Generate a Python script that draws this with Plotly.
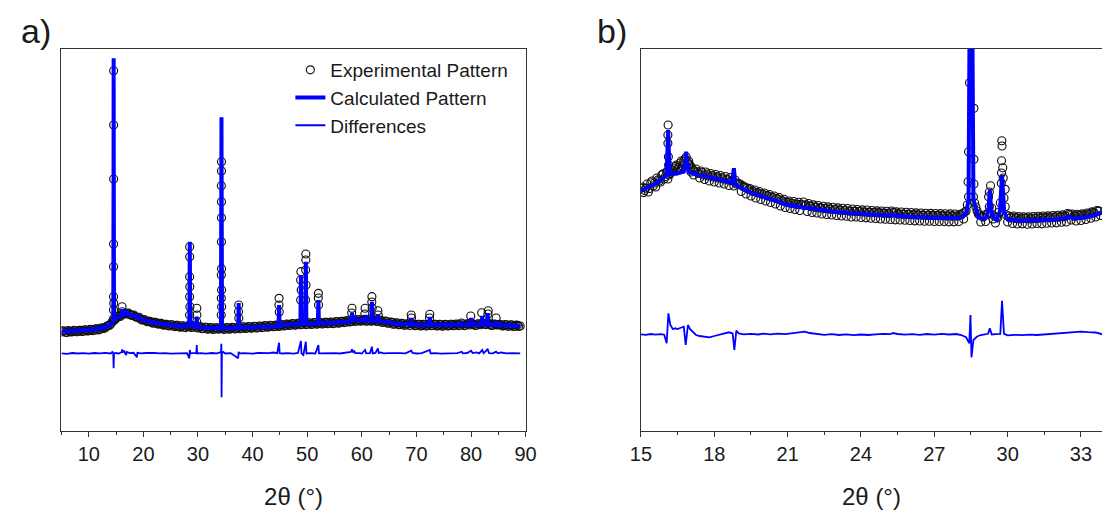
import plotly.graph_objects as go

# ---------------- Panel a) : full pattern 5-90 deg ----------------
# Experimental step scan, two interleaved read-outs (start, step, counts)
exp_a_start = 5.0
exp_a_step = 0.5
exp_a_counts = [
    990, 1000, 985, 998, 992, 1003, 994, 1006, 998, 1010,
    1002, 1014, 1008, 1021, 1015, 1030, 1032, 1052, 1068, 1100,
    1125, 1150, 1160, 1175, 1178, 1165, 1158, 1145, 1135, 1118,
    1112, 1100, 1098, 1085, 1088, 1075, 1076, 1064, 1068, 1055,
    1062, 1050, 1056, 1042, 1050, 1038, 1048, 1050, 1040, 1048,
    1030, 1042, 1025, 1036, 1022, 1033, 1020, 1031, 1025, 1030,
    1020, 1032, 1022, 1034, 1025, 1036, 1028, 1040, 1030, 1042,
    1032, 1045, 1034, 1048, 1038, 1052, 1042, 1055, 1046, 1058,
    1050, 1062, 1055, 1068, 1060, 1072, 1062, 1074, 1065, 1078,
    1068, 1080, 1070, 1082, 1072, 1083, 1074, 1086, 1076, 1088,
    1078, 1092, 1082, 1096, 1088, 1100, 1094, 1110, 1100, 1112,
    1102, 1112, 1100, 1112, 1102, 1110, 1098, 1106, 1090, 1098,
    1080, 1088, 1070, 1080, 1064, 1074, 1060, 1070, 1075, 1068,
    1055, 1066, 1054, 1065, 1054, 1070, 1055, 1066, 1052, 1064,
    1052, 1064, 1054, 1066, 1056, 1068, 1058, 1070, 1058, 1070,
    1072, 1068, 1058, 1070, 1075, 1068, 1078, 1066, 1058, 1068,
    1062, 1062, 1052, 1062, 1050, 1060, 1048, 1058, 1050,
]
exp_a_start_2 = 5.25
exp_a_counts_2 = [
    1002, 988, 1004, 990, 1006, 992, 1008, 996, 1012, 1000,
    1016, 1004, 1022, 1010, 1030, 1026, 1048, 1056, 1090, 1112,
    1145, 1145, 1172, 1170, 1180, 1158, 1160, 1138, 1136, 1110,
    1112, 1092, 1098, 1078, 1088, 1068, 1078, 1058, 1068, 1050,
    1062, 1044, 1056, 1038, 1052, 1034, 1050, 1036, 1052, 1036,
    1044, 1022, 1038, 1018, 1034, 1016, 1032, 1018, 1032, 1016,
    1034, 1018, 1036, 1020, 1038, 1022, 1042, 1026, 1044, 1028,
    1048, 1030, 1050, 1034, 1054, 1038, 1058, 1042, 1060, 1046,
    1064, 1050, 1070, 1056, 1074, 1058, 1076, 1062, 1080, 1064,
    1082, 1066, 1084, 1068, 1086, 1070, 1088, 1072, 1090, 1074,
    1094, 1078, 1098, 1084, 1104, 1090, 1112, 1096, 1114, 1098,
    1114, 1098, 1114, 1098, 1112, 1096, 1108, 1086, 1100, 1078,
    1090, 1068, 1082, 1062, 1076, 1058, 1072, 1056, 1072, 1052,
    1068, 1050, 1066, 1050, 1068, 1052, 1068, 1050, 1066, 1048,
    1066, 1050, 1068, 1052, 1070, 1054, 1080, 1054, 1072, 1060,
    1074, 1056, 1072, 1062, 1078, 1064, 1080, 1056, 1070, 1060,
    1066, 1050, 1064, 1048, 1062, 1046, 1060, 1046,
]
# Experimental points on the Bragg peaks
exp_a_peak_x = [
    14.55, 14.55, 14.55, 14.54, 14.54, 14.53, 14.57, 14.52, 14.58,
    16.1, 16.12,
    28.48, 28.48, 28.47, 28.5, 28.47, 28.52, 28.46,
    29.78, 29.8, 29.76,
    34.3, 34.3, 34.28, 34.3, 34.3, 34.29, 34.31, 34.28, 34.32, 34.27, 34.33, 34.26,
    37.45, 37.42, 37.48,
    44.85, 44.83, 44.88,
    48.85, 48.8, 48.9, 48.8,
    49.75, 49.75, 49.72, 49.78, 49.7,
    52.05, 52.03, 52.08,
    58.2, 58.15,
    60.6, 60.55,
    61.85, 61.83, 61.9,
    62.95, 63.0,
    69.05, 69.1,
    72.45, 72.4,
    79.95,
    81.95,
    83.15, 83.1,
    84.6,
]
exp_a_peak_y = [
    3603, 3060, 2520, 1870, 1643, 1343, 1277, 1210, 1127,
    1243, 1193,
    1843, 1743, 1543, 1443, 1343, 1243, 1160,
    1227, 1160, 1093,
    2693, 2600, 2453, 2293, 2133, 1893, 1623, 1560, 1410, 1327, 1243, 1160,
    1260, 1193, 1127,
    1327, 1260, 1190,
    1593, 1510, 1410, 1310,
    1770, 1710, 1610, 1460, 1310,
    1377, 1330, 1260,
    1227, 1180,
    1227, 1170,
    1343, 1290, 1230,
    1203, 1160,
    1160, 1130,
    1167, 1130,
    1150,
    1183,
    1203, 1170,
    1130,
]
calc_a_x = [
    5.0, 7.0, 9.0, 11.0, 12.5, 13.5, 14.2, 14.48, 14.53, 14.55, 14.57, 14.62,
    15.0, 15.6, 16.05, 16.1, 16.15, 16.5, 16.8, 16.85, 16.9, 17.3, 18.0,
    18.8, 18.85, 18.9, 20.0, 22.0, 25.0, 27.5, 28.42, 28.5, 28.58, 28.7,
    29.2, 29.27, 29.35, 29.7, 29.77, 29.85, 30.5, 33.0, 34.2, 34.3, 34.4,
    35.5, 37.35, 37.45, 37.55, 40.0, 43.0, 44.75, 44.85, 44.95, 46.5,
    48.75, 48.85, 48.95, 49.65, 49.75, 49.85, 51.0, 51.95, 52.05, 52.15,
    55.0, 57.5, 58.1, 58.2, 58.3, 58.6, 59.5, 60.5, 60.6, 60.7,
    61.75, 61.85, 61.95, 62.85, 62.95, 63.05, 64.0, 66.0, 68.95, 69.05, 69.15,
    72.35, 72.45, 72.55, 75.0, 78.2, 78.3, 78.4, 79.9, 80.0, 80.1,
    81.95, 82.05, 82.15, 82.95, 83.05, 83.15, 84.5, 84.6, 84.7, 86.0, 89.0,
]
calc_a_y = [
    993, 998, 1005, 1017, 1030, 1050, 1080, 1100, 2400, 3727, 2400, 1115,
    1127, 1150, 1160, 1220, 1160, 1165, 1168, 1210, 1168, 1170, 1155,
    1140, 1170, 1138, 1110, 1083, 1060, 1045, 1100, 1893, 1100, 1050,
    1045, 1090, 1045, 1045, 1143, 1045, 1035, 1027, 1027, 3137, 1027,
    1027, 1030, 1280, 1032, 1037, 1047, 1050, 1260, 1055, 1065,
    1068, 1560, 1070, 1070, 1693, 1072, 1075, 1075, 1310, 1077,
    1083, 1095, 1100, 1183, 1105, 1130, 1105, 1105, 1160, 1105,
    1105, 1293, 1105, 1100, 1160, 1095, 1095, 1075, 1065, 1130, 1065,
    1062, 1140, 1062, 1060, 1063, 1090, 1063, 1065, 1130, 1065,
    1065, 1150, 1065, 1065, 1180, 1065, 1062, 1100, 1060, 1060, 1050,
]
diff_a_x = [
    5.0, 6.0, 7.0, 8.0, 9.0, 10.0, 11.0, 12.0, 13.0, 14.0, 14.3, 14.48, 14.55, 14.62,
    15.0, 15.5, 16.05, 16.1, 16.2, 16.5, 16.6, 16.85, 16.95, 17.5, 18.2, 18.8, 18.9,
    19.5, 20.5, 21.5, 22.0, 23.0, 24.0, 25.0, 26.0, 27.0, 28.0, 28.42, 28.5, 28.6,
    29.0, 29.7, 29.77, 29.85, 30.5, 31.5, 32.5, 33.5, 34.22, 34.28, 34.32, 34.38,
    34.6, 35.0, 36.0, 37.35, 37.45, 37.55, 38.5, 40.0, 41.0, 42.0, 43.0, 43.8, 44.5,
    44.85, 44.95, 45.5, 46.5, 47.5, 48.3, 48.85, 48.95, 49.3, 49.75, 49.85, 50.5,
    51.5, 52.05, 52.15, 53.0, 54.0, 55.0, 56.0, 57.0, 58.0, 58.2, 58.4, 58.6, 58.8,
    59.5, 60.0, 60.6, 60.8, 61.5, 61.85, 62.0, 62.5, 62.95, 63.1, 63.5, 64.0, 65.0,
    66.0, 67.0, 68.0, 69.05, 69.3, 70.0, 71.0, 72.45, 72.6, 73.5, 74.5, 75.5, 76.5,
    77.5, 78.3, 78.5, 79.3, 80.0, 80.3, 81.0, 81.5, 82.05, 82.3, 83.05, 83.3, 84.0,
    84.6, 84.9, 85.5, 86.5, 87.5, 88.5, 89.0,
]
diff_a_y = [
    777, 772, 780, 775, 779, 774, 780, 776, 781, 775, 790, 780, 627, 775,
    780, 774, 790, 817, 785, 803, 780, 760, 790, 778, 782, 737, 782,
    776, 780, 786, 782, 776, 779, 774, 778, 775, 779, 727, 810, 775,
    778, 780, 860, 776, 779, 774, 780, 776, 790, 873, 337, 780,
    790, 775, 779, 727, 793, 776, 778, 774, 780, 776, 779, 785, 778,
    883, 778, 775, 779, 774, 780, 900, 776, 760, 893, 776, 779,
    775, 860, 777, 779, 774, 778, 775, 779, 790, 817, 785, 803, 778,
    779, 775, 810, 777, 779, 843, 776, 780, 827, 780, 785, 776, 779,
    775, 778, 776, 803, 780, 775, 779, 810, 776, 779, 774, 778, 776,
    779, 793, 776, 780, 803, 779, 786, 776, 810, 778, 817, 779, 776,
    793, 777, 785, 776, 779, 775, 777,
]

# ---------------- Panel b) : zoom 15-34 deg ----------------
exp_b_start = 15.0
exp_b_step = 0.1
exp_b_counts = [
    2428, 2384, 2429, 2390, 2483, 2451, 2440, 2512, 2490, 2572,
    2545, 2520, 2575, 2610, 2645, 2620, 2680, 2650, 2720, 2690,
    2660, 2620, 2600, 2590, 2530, 2585, 2515, 2570, 2500, 2555,
    2490, 2545, 2480, 2535, 2470, 2520, 2455, 2505, 2450, 2470,
    2470, 2395, 2440, 2370, 2415, 2350, 2395, 2330, 2380, 2315,
    2365, 2300, 2350, 2285, 2335, 2270, 2320, 2250, 2300, 2235,
    2285, 2225, 2275, 2215, 2265, 2205, 2262, 2255, 2195, 2250,
    2185, 2240, 2180, 2232, 2170, 2225, 2165, 2220, 2160, 2215,
    2155, 2210, 2150, 2205, 2148, 2200, 2140, 2198, 2140, 2195,
    2135, 2190, 2132, 2188, 2128, 2185, 2125, 2182, 2120, 2180,
    2118, 2178, 2115, 2185, 2112, 2172, 2110, 2170, 2108, 2168,
    2105, 2165, 2102, 2162, 2100, 2160, 2098, 2158, 2098, 2156,
    2095, 2155, 2095, 2154, 2094, 2153, 2092, 2152, 2092, 2150,
    2095, 2160, 2120, 2200, 2343, None, 2343, 2240, 2170, 2090,
    2140, 2095, 2180, 2453, 2120, 2080, 2135, 2283, 2633, 2243,
    2090, 2130, 2075, 2125, 2070, 2120, 2072, 2125, 2068, 2120,
    2070, 2125, 2075, 2128, 2072, 2130, 2078, 2132, 2080, 2135,
    2082, 2138, 2088, 2142, 2090, 2165, 2110, 2150, 2100, 2155,
    2105, 2160, 2115, 2170, 2128, 2185, 2140, 2200, 2155,
]
exp_b_start_2 = 15.05
exp_b_counts_2 = [
    2440, 2405, 2470, 2425, 2500, 2480, 2530, 2500, 2560, 2520,
    2590, 2560, 2590, 2630, 2660, 2640, 2700, 2670, 2740, 2665,
    2640, 2605, 2620, 2575, 2600, 2560, 2590, 2550, 2575, 2540,
    2565, 2530, 2555, 2520, 2545, 2510, 2535, 2500, 2510, 2480,
    2470, 2455, 2440, 2430, 2425, 2400, 2410, 2385, 2395, 2370,
    2380, 2355, 2365, 2340, 2350, 2325, 2335, 2305, 2318, 2290,
    2300, 2278, 2295, 2270, 2288, 2265, 2290, 2262, 2275, 2248,
    2262, 2238, 2255, 2232, 2248, 2225, 2242, 2220, 2238, 2215,
    2232, 2210, 2228, 2205, 2225, 2200, 2220, 2198, 2215, 2195,
    2212, 2190, 2210, 2188, 2205, 2185, 2202, 2182, 2200, 2178,
    2198, 2175, 2200, 2185, 2192, 2170, 2190, 2168, 2188, 2165,
    2185, 2162, 2182, 2160, 2180, 2158, 2178, 2156, 2176, 2154,
    2175, 2153, 2174, 2152, 2173, 2150, 2172, 2150, 2170, 2150,
    2168, 2175, 2190, 2260, None, None, 2280, 2200, 2160, 2148,
    2160, 2165, 2390, 2230, 2150, 2140, 2190, 2580, 2330, 2160,
    2150, 2140, 2150, 2135, 2145, 2130, 2142, 2128, 2142, 2130,
    2145, 2132, 2148, 2135, 2150, 2138, 2152, 2140, 2155, 2142,
    2158, 2145, 2162, 2150, 2175, 2168, 2170, 2150, 2168, 2155,
    2172, 2160, 2180, 2170, 2192, 2180, 2205, 2200,
]
exp_b_peak_x = [
    16.11, 16.1, 16.1, 16.12, 16.13, 16.08,
    16.45, 16.65, 16.75, 16.85, 16.95, 17.05, 17.15,
    28.38, 28.4, 28.44, 28.62, 28.62, 28.62,
    29.22, 29.25,
    29.76, 29.77, 29.75, 29.74, 29.9, 29.82,
]
exp_b_peak_y = [
    3060, 2960, 2877, 2743, 2660, 2600,
    2600, 2620, 2700, 2650, 2700, 2590, 2560,
    2493, 2793, 3483, 3227, 2717, 2470,
    2343, 2243,
    2903, 2850, 2703, 2477, 2417, 2530,
]
calc_b_x = [
    15.0, 15.3, 15.6, 15.9, 16.05, 16.08, 16.11, 16.14, 16.18, 16.5, 16.75,
    16.82, 16.85, 16.88, 16.95, 17.2, 17.6, 18.0, 18.4, 18.72, 18.8, 18.86,
    19.1, 19.5, 20.0, 20.5, 21.0, 21.5, 22.0, 22.5, 23.0, 23.5, 24.0, 24.5, 25.0,
    25.25, 25.32, 25.4, 26.0, 27.0, 27.8, 28.1, 28.3, 28.4, 28.5, 28.6, 28.7, 28.8,
    29.0, 29.15, 29.22, 29.27, 29.32, 29.4, 29.55, 29.68, 29.77, 29.86,
    30.0, 30.5, 31.0, 31.5, 32.0, 32.45, 32.55, 32.7, 33.0, 33.5, 33.86,
]
calc_b_y = [
    2403, 2435, 2475, 2527, 2560, 2800, 3010, 2800, 2570, 2577, 2593,
    2700, 2793, 2700, 2593, 2570, 2550, 2527, 2505, 2485, 2627, 2462,
    2430, 2383, 2343, 2305, 2260, 2240, 2220, 2203, 2190, 2180, 2172, 2163, 2155,
    2153, 2165, 2152, 2143, 2133, 2128, 2140, 2177, 2310, 6500, 2310, 2210, 2143,
    2120, 2140, 2230, 2410, 2230, 2140, 2110, 2190, 2560, 2190,
    2117, 2103, 2105, 2110, 2115, 2130, 2145, 2125, 2130, 2155, 2190,
]
diff_b_x = [
    15.0, 15.2, 15.4, 15.6, 15.8, 15.95, 16.05, 16.12, 16.2, 16.3, 16.4, 16.5, 16.6,
    16.75, 16.83, 16.92, 17.0, 17.1, 17.25, 17.4, 17.6, 17.8, 18.0, 18.2, 18.4, 18.6,
    18.75, 18.82, 18.9, 19.0, 19.2, 19.5, 19.8, 20.0, 20.3, 20.6, 20.9, 21.2, 21.5,
    21.7, 21.9, 22.2, 22.5, 22.8, 23.1, 23.4, 23.7, 24.0, 24.3, 24.6, 24.9, 25.2,
    25.3, 25.5, 25.8, 26.1, 26.4, 26.7, 27.0, 27.3, 27.6, 27.9, 28.1, 28.3, 28.43,
    28.48, 28.52, 28.6, 28.75, 28.9, 29.1, 29.2, 29.27, 29.35, 29.5, 29.7, 29.77,
    29.85, 30.0, 30.3, 30.6, 30.9, 31.2, 31.5, 31.8, 32.1, 32.4, 32.7, 33.0, 33.3,
    33.6, 33.86,
]
diff_b_y = [
    967, 962, 970, 964, 969, 963, 877, 1177, 1060, 1020, 1027, 1020, 1030,
    1043, 860, 1060, 1020, 993, 960, 950, 945, 937, 950, 960, 975, 987,
    975, 810, 1003, 975, 967, 972, 965, 973, 966, 974, 968, 975, 983,
    993, 980, 970, 962, 968, 960, 966, 958, 965, 960, 967, 972, 968,
    980, 970, 963, 969, 962, 970, 964, 971, 965, 970, 960, 937, 877,
    1160, 737, 910, 945, 960, 967, 972, 1027, 965, 968, 972, 1303,
    972, 957, 962, 958, 963, 960, 966, 970, 975, 985, 990, 993, 988,
    985, 967,
]

# ---------------- build figure ----------------
FONT = "Liberation Sans, Arial, Helvetica, sans-serif"
BLUE = "#0000ff"
AXC = "#333333"
TXT = "#1a1a1a"


def grid(start, step, counts):
    return [round(start + step * i, 3) for i in range(len(counts))]


exp_a_x = (grid(exp_a_start, exp_a_step, exp_a_counts)
           + grid(exp_a_start_2, exp_a_step, exp_a_counts_2) + exp_a_peak_x)
exp_a_y = exp_a_counts + exp_a_counts_2 + exp_a_peak_y
exp_b_x = (grid(exp_b_start, exp_b_step, exp_b_counts)
           + grid(exp_b_start_2, exp_b_step, exp_b_counts_2) + exp_b_peak_x)
exp_b_y = exp_b_counts + exp_b_counts_2 + exp_b_peak_y

circ = dict(symbol="circle-open", size=8, color="#111111", line=dict(width=1.15))

fig = go.Figure()
fig.add_trace(go.Scatter(x=exp_a_x, y=exp_a_y, mode="markers", marker=circ,
                         name="Experimental Pattern", xaxis="x", yaxis="y"))
fig.add_trace(go.Scatter(x=calc_a_x, y=calc_a_y, mode="lines",
                         line=dict(color=BLUE, width=4),
                         name="Calculated Pattern", xaxis="x", yaxis="y"))
fig.add_trace(go.Scatter(x=diff_a_x, y=diff_a_y, mode="lines",
                         line=dict(color=BLUE, width=1.8),
                         name="Differences", xaxis="x", yaxis="y"))
fig.add_trace(go.Scatter(x=exp_b_x, y=exp_b_y, mode="markers", marker=circ,
                         showlegend=False, xaxis="x2", yaxis="y2"))
fig.add_trace(go.Scatter(x=calc_b_x, y=calc_b_y, mode="lines",
                         line=dict(color=BLUE, width=4),
                         showlegend=False, xaxis="x2", yaxis="y2"))
fig.add_trace(go.Scatter(x=diff_b_x, y=diff_b_y, mode="lines",
                         line=dict(color=BLUE, width=1.8),
                         showlegend=False, xaxis="x2", yaxis="y2"))

W, H = 1113, 511
ydom = [(H - 431) / H, (H - 48.5) / H]

xcommon = dict(showgrid=False, zeroline=False, showline=True, linecolor=AXC,
               linewidth=1.3, ticks="outside", ticklen=5, tickwidth=1.2,
               tickcolor=AXC, tickfont=dict(family=FONT, size=20, color=TXT),
               title=dict(text="2θ (°)", font=dict(family=FONT, size=24, color=TXT),
                          standoff=24))
ycommon = dict(showgrid=False, zeroline=False, showline=True, linecolor=AXC,
               linewidth=1.3, ticks="", showticklabels=False, domain=ydom,
               range=[0, 3825])

fig.update_layout(
    width=W, height=H,
    margin=dict(l=0, r=0, t=0, b=0),
    paper_bgcolor="white", plot_bgcolor="white",
    font=dict(family=FONT, color=TXT),
    xaxis=dict(xcommon, domain=[51.5 / W, 525 / W], range=[5, 90], tick0=0, dtick=10,
               mirror=True, anchor="y",
               minor=dict(dtick=5, ticks="outside", ticklen=3, tickwidth=1.2, tickcolor=AXC)),
    yaxis=dict(ycommon, mirror=True, anchor="x"),
    xaxis2=dict(xcommon, domain=[642.7 / W, 1.0], range=[15, 33.86], tick0=15, dtick=3,
                mirror=True, anchor="y2",
                minor=dict(dtick=1.5, ticks="outside", ticklen=3, tickwidth=1.2, tickcolor=AXC)),
    yaxis2=dict(ycommon, mirror=False, anchor="x2"),
    legend=dict(x=285 / W, y=(H - 51) / H, xanchor="left", yanchor="top",
                bgcolor="rgba(0,0,0,0)", font=dict(family=FONT, size=19, color=TXT),
                tracegroupgap=0),
    annotations=[
        dict(text="a)", x=26 / W, y=(H - 31) / H, xref="paper", yref="paper",
             showarrow=False, font=dict(family=FONT, size=34, color=TXT),
             xanchor="center", yanchor="middle"),
        dict(text="b)", x=613 / W, y=(H - 31) / H, xref="paper", yref="paper",
             showarrow=False, font=dict(family=FONT, size=34, color=TXT),
             xanchor="center", yanchor="middle"),
    ],
)

fig.write_html("out.html")
